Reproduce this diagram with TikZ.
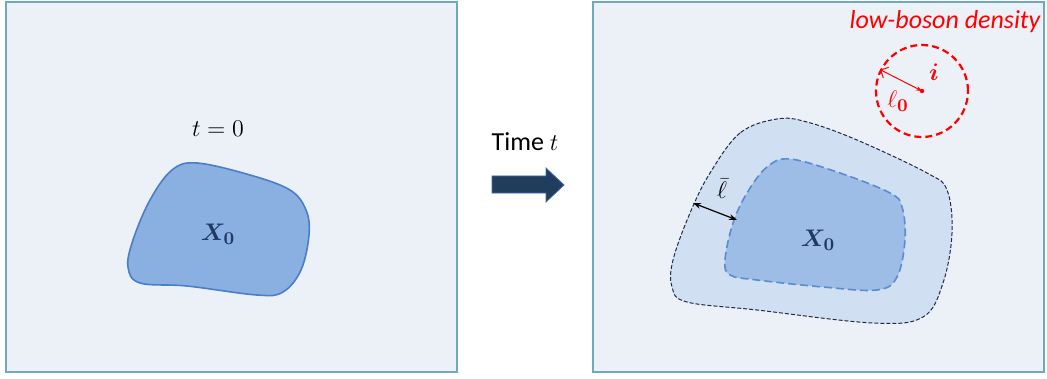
\documentclass[tikz,border=0pt]{standalone}
\usepackage{fontspec}
\usepackage{bm}
\setsansfont{Carlito}
\usetikzlibrary{arrows.meta}

\definecolor{panelfill}{RGB}{236,241,248}
\definecolor{panelline}{RGB}{112,168,188}
\definecolor{blobfill}{RGB}{138,176,226}
\definecolor{blobline}{RGB}{74,126,201}
\definecolor{outerfill}{RGB}{208,223,242}
\definecolor{outerline}{RGB}{30,45,70}
\definecolor{innerfill}{RGB}{157,188,230}
\definecolor{innerline}{RGB}{90,140,210}
\definecolor{navy}{RGB}{33,61,94}
\definecolor{labelblue}{RGB}{31,56,100}

\tikzset{
  panel/.style={fill=panelfill, draw=panelline, line width=0.6pt},
  setlabel/.style={text=labelblue, font=\fontsize{13}{15}\selectfont},
  mathlabel/.style={font=\fontsize{13}{15}\selectfont, inner sep=1pt},
}

\begin{document}
\begin{tikzpicture}[x=0.5pt,y=-0.5pt]
        \useasboundingbox (0,0) rectangle (1047,379);

        % the two panels
        \draw[panel] (6,2) rectangle (457,372);
        \draw[panel] (593,2) rectangle (1044,372);

        % left: the set at t=0
        \draw[fill=blobfill, draw=blobline, line width=0.8pt] plot[smooth cycle, tension=0.6] coordinates
          {(197,163) (250,175) (290,190) (306,210) (309,235) (301,270) (283,292) (257,295)
           (187,286) (140,283) (128,267) (133,240) (150,200) (172,170)};
        \node[setlabel] (xleft) at (218,234) {$\bm{X_0}$};
        \node[mathlabel] (tzero) at (218,129) {$t=0$};

        % time arrow
        \draw[fill=navy, draw=blobline!70!navy, line width=0.4pt]
          (492,176) -- (546,176) -- (546,168) -- (564,185) -- (546,202) -- (546,193) -- (492,193) -- cycle;
        \node[font=\sffamily\fontsize{13}{15}\selectfont] (time) at (525,142) {Time $t$};

        % right: grown region after time t
        \draw[fill=outerfill, draw=outerline, line width=0.5pt, dash pattern=on 2pt off 1pt]
          plot[smooth cycle, tension=0.6] coordinates
          {(777,119) (740,133) (710,173) (690,213) (673,260) (672,287) (687,302) (757,310)
           (873,323) (923,317) (943,283) (952,233) (947,190) (927,173) (857,140) (807,122)};
        \draw[fill=innerfill, draw=innerline, line width=0.8pt, dash pattern=on 4pt off 2pt]
          plot[smooth cycle, tension=0.6] coordinates
          {(790,159) (767,167) (747,193) (733,223) (725,260) (730,275) (757,280) (823,287)
           (877,290) (897,277) (905,240) (902,207) (890,193) (840,173)};
        \node[setlabel] (xright) at (818,240) {$\bm{X_0}$};

        \coordinate (outeredge) at (693,203);
        \coordinate (inneredge) at (737,220);
        \draw[{Stealth[length=4pt]}-{Stealth[length=4pt]}, line width=0.6pt] (outeredge) -- (inneredge);
        \node[mathlabel] (lbar) at (722,189) {$\bar\ell$};

        % low-boson density ball around i
        \node[draw=red, line width=1.1pt, dash pattern=on 3.5pt off 2pt, circle, minimum size=46pt, inner sep=0pt] (ball) at (922,91) {};
        \fill[red] (ball.center) circle (2.2);
        \draw[red, {Straight Barb[length=3pt]}-{Stealth[length=3pt]}, line width=0.5pt] (ball.153) -- (ball.center);
        \node[red, mathlabel] (site) at (934,72) {$\bm{i}$};
        \node[red, mathlabel] (lzero) at (898,101) {$\ell_{\bm 0}$};
        \node[red, font=\sffamily\itshape\fontsize{13}{15}\selectfont] (density) at (945,22) {low-boson density};
      \end{tikzpicture}
\end{document}
